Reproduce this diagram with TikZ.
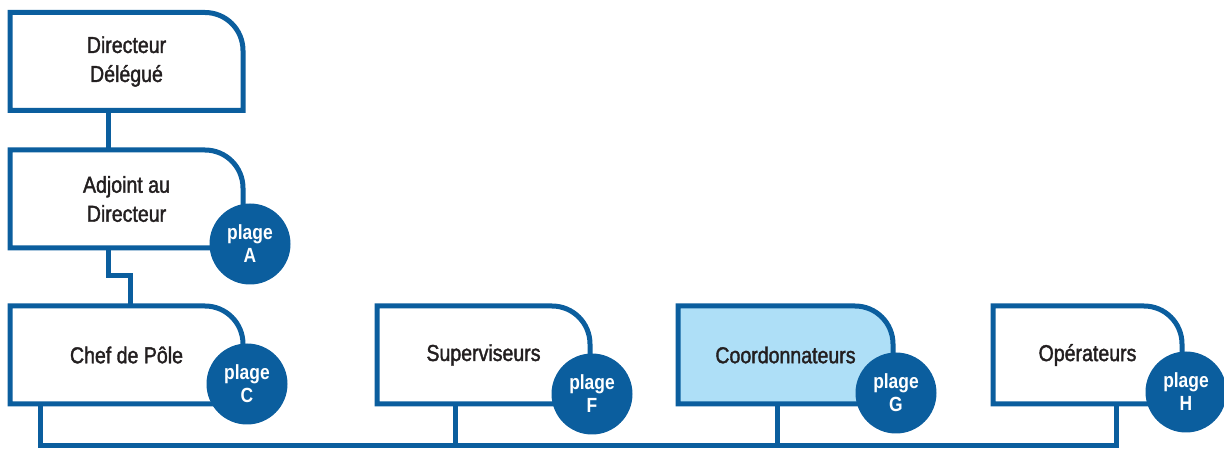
\documentclass[tikz,border=0pt]{standalone}
\usepackage{fontspec}
\setmainfont{Liberation Sans}[FakeStretch=0.85]
\newfontfamily\boxfont{Liberation Sans}[FakeStretch=0.85, FakeBold=1.6]
\usetikzlibrary{backgrounds}
\definecolor{bl}{HTML}{0B5E9E}
\definecolor{lb}{HTML}{AEDFF7}
\definecolor{tx}{HTML}{231F20}
\tikzset{
  boxn/.style={draw=none, minimum width=#1, minimum height=98pt, inner sep=0pt, outer sep=0pt,
    align=center, font=\boxfont\fontsize{23}{29}\selectfont, text=tx},
  plg/.style={circle, fill=bl, minimum size=81pt, inner sep=0pt, outer sep=0pt, align=center,
    text=white, font=\fontsize{20.5}{23}\selectfont\bfseries},
  outl/.style={draw=bl, line width=5pt, line join=miter},
  conn/.style={draw=bl, line width=5pt, line join=miter},
}
\newcommand\boxoutline[2][white]{%
  \draw[outl, fill=#1] (#2.south west) -- (#2.north west) -- ([xshift=-38pt]#2.north east)
    arc[start angle=90, end angle=0, radius=38pt] -- (#2.south east) -- cycle;}
\begin{document}
\begin{tikzpicture}[x=1pt,y=1pt]
\useasboundingbox (0,0) rectangle (1224,450);
\node[boxn=233pt] (dd)   at (126.5,388.5) {Directeur\\Délégué};
\node[boxn=233pt] (adj)  at (126.5,251)   {Adjoint au\\Directeur};
\node[boxn=233pt] (chef) at (126.5,95)    {Chef de Pôle};
\node[boxn=213pt] (sup)  at (483.5,95)    {Superviseurs};
\node[boxn=215pt] (coo)  at (785.5,95)    {Coordonnateurs};
\node[boxn=189pt] (ope)  at (1087.5,95)   {Opérateurs};
\begin{scope}[on background layer]
  \boxoutline{dd}
  \boxoutline{adj}
  \boxoutline{chef}
  \boxoutline{sup}
  \boxoutline[lb]{coo}
  \boxoutline{ope}
\end{scope}
% connectors
\draw[conn] ([xshift=98pt]dd.south west) -- ([xshift=98pt]adj.north west);
\draw[conn] ([xshift=98pt]adj.south west) -- ++(0,-28) -| ([xshift=120pt]chef.north west);
\coordinate (bus) at (0,5);
\coordinate (chefb) at ([xshift=30pt]chef.south west);
\coordinate (supb)  at ([xshift=78pt]sup.south west);
\coordinate (coob)  at ([xshift=99pt]coo.south west);
\coordinate (opeb)  at ([xshift=123pt]ope.south west);
\draw[conn] (chefb) |- (opeb |- bus) -- (opeb);
\draw[conn] (supb) -- (supb |- bus);
\draw[conn] (coob) -- (coob |- bus);
% badges
\node[plg] (pa) at (250,206) {plage\\A};
\node[plg] (pc) at (247,66)  {plage\\C};
\node[plg] (pf) at (592,56)  {plage\\F};
\node[plg] (pg) at (896,57)  {plage\\G};
\node[plg] (ph) at (1186,58) {plage\\H};
\end{tikzpicture}
\end{document}
